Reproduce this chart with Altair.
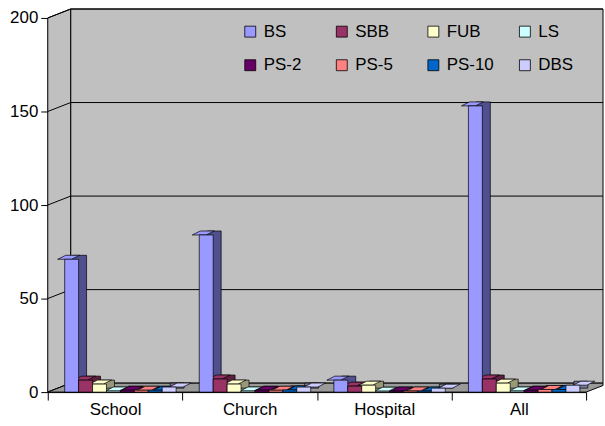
import altair as alt
import pandas as pd

categories = ["School", "Church", "Hospital", "All"]
series = ["BS", "SBB", "FUB", "LS", "PS-2", "PS-5", "PS-10", "DBS"]
values = {
    "BS":    [71, 84, 6.4, 153],
    "SBB":   [6.4, 7, 3.2, 7],
    "FUB":   [4.3, 4.3, 3.7, 4.8],
    "LS":    [0.6, 0.6, 0.5, 0.6],
    "PS-2":  [1, 1, 0.6, 1],
    "PS-5":  [1, 1, 0.6, 1.4],
    "PS-10": [1, 1.2, 0.6, 1.4],
    "DBS":   [2.7, 2.7, 2.1, 3.7],
}
colors = ["#9999FF", "#993366", "#FFFFCC", "#CCFFFF", "#660066", "#FF8080", "#0066CC", "#CCCCFF"]
dark = ["#50508F", "#5C1F3D", "#99997A", "#7A9999", "#3D003D", "#994D4D", "#003D7A", "#7A7A99"]
y_ticks = [0, 50, 100, 150, 200]

rows = []
for s in series:
    for c, v in zip(categories, values[s]):
        rows.append({"category": c, "series": s, "value": v})
df = pd.DataFrame(rows)
grid_df = pd.DataFrame({"v": y_ticks})
one = pd.DataFrame({"a": [0]})

FONT = "Liberation Sans"
W, D, DY, H = 541, 23, 9, 376
VW, VH = 558, H + DY

x = alt.X("category:N", sort=categories, title=None,
          scale=alt.Scale(range=[0, W], paddingInner=0, paddingOuter=0),
          axis=alt.Axis(labelAngle=0, labelFont=FONT, labelFontSize=17, labelColor="black",
                        domainColor="black", tickColor="black", tickSize=8, labelPadding=2,
                        tickBand="extent", grid=False))
y_axis = alt.Axis(values=y_ticks, labelFont=FONT, labelFontSize=17,
                  labelColor="black", domainColor="black", tickColor="black", tickSize=7,
                  labelPadding=3, grid=False)
y_scale = alt.Scale(domain=[0, 200], range=[VH, DY], nice=False)
y = alt.Y("value:Q", title=None, scale=y_scale, axis=y_axis)
yg = alt.Y("v:Q", title=None, scale=y_scale, axis=y_axis)
yg2 = alt.Y2("v:Q")

legend = alt.Legend(title=None, orient="none", legendX=195, legendY=14,
                    columns=4, symbolType="square", symbolSize=121,
                    symbolStrokeColor="black", symbolStrokeWidth=0.8, symbolOpacity=1,
                    labelFont=FONT, labelFontSize=17, labelColor="black",
                    columnPadding=22, rowPadding=16, labelOffset=5,
                    gridAlign="all", direction="horizontal")
color_scale = alt.Scale(domain=series, range=colors)


def xo(lo, hi):
    return alt.XOffset("series:N", sort=series,
                       scale=alt.Scale(domain=series, range=[lo, hi], paddingInner=0, paddingOuter=0))


# walls and floor (decoration)
back_wall = alt.Chart(one).mark_rect(fill="#C0C0C0", stroke="black", strokeWidth=1).encode(
    x=alt.value(D), x2=alt.value(VW), y=alt.value(0), y2=alt.value(H))
left_wall = alt.Chart(one).mark_point(
    shape=f"M0,{DY} L{D},0 L{D},{H} L0,{VH} Z", size=4, filled=True, fill="#C0C0C0",
    stroke="black", strokeWidth=1, opacity=1).encode(x=alt.value(0), y=alt.value(0))
gridlines = alt.Chart(grid_df).transform_filter("datum.v > 0").mark_rule(
    color="black", strokeWidth=1, yOffset=-DY).encode(
    y=yg, x=alt.value(D), x2=alt.value(VW))
diag = alt.Chart(grid_df).mark_rule(color="black", strokeWidth=1, y2Offset=-DY).encode(
    y=yg, y2=yg2, x=alt.value(0), x2=alt.value(D))
floor = alt.Chart(one).mark_point(
    shape=f"M0,0 L{W},0 L{VW},{-DY * (VW - W) / D:.2f} L{VW},{-DY} L{D},{-DY} Z", size=4,
    filled=True, fill="#9A9A9A", stroke="black", strokeWidth=1, opacity=1).encode(
    x=alt.value(0), y=alt.value(VH))

# 3D bars: side faces, top faces, front faces
sides = alt.Chart(df).mark_bar(yOffset=-4, stroke="black", strokeWidth=0.7).encode(
    x=x, y=y, xOffset=xo(25, 137),
    fill=alt.Fill("series:N", sort=series, scale=alt.Scale(domain=series, range=dark), legend=None),
)
tops = alt.Chart(df).mark_point(
    shape="M-7,0 L7,0 L15,-4 L1,-4 Z", size=4, filled=True, stroke="black",
    strokeWidth=0.7, opacity=1).encode(
    x=x, y=y, xOffset=xo(17, 129),
    color=alt.Color("series:N", sort=series, scale=color_scale, legend=None),
)
fronts = alt.Chart(df).mark_bar(stroke="black", strokeWidth=0.7).encode(
    x=x, y=y, xOffset=xo(17, 129),
    color=alt.Color("series:N", sort=series, scale=color_scale, legend=legend),
)

chart = alt.layer(back_wall, left_wall, gridlines, diag, floor, sides, tops, fronts).resolve_scale(
    xOffset="independent", color="independent", fill="independent").properties(
    width=VW, height=VH, background="white",
    padding={"left": 9, "top": 6, "right": 0, "bottom": 5},
).configure_view(stroke=None)

chart.save("out.html", embed_options={"renderer": "svg", "actions": False})
